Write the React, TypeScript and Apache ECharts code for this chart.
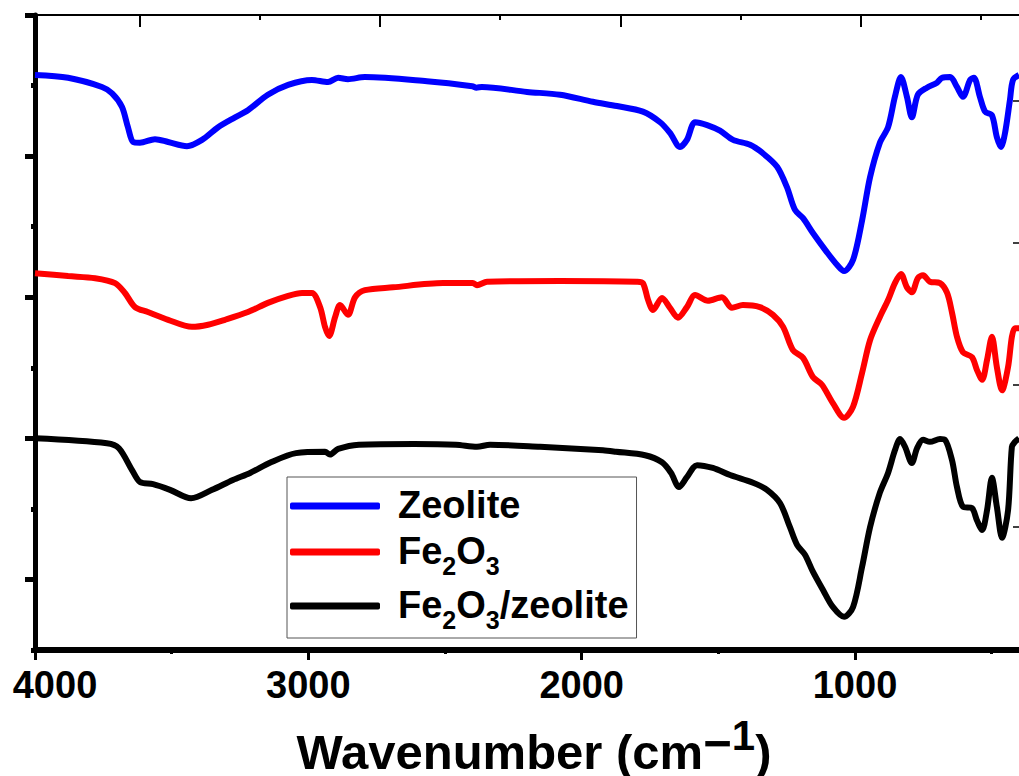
import { useEffect, useRef } from 'react';
import * as echarts from 'echarts';

const FONT = '"Liberation Sans", Arial, Helvetica, sans-serif';

// x-axis (wavenumber, cm-1)
const WN_MIN = 400;
const WN_MAX = 4000;
const WN_TICKS = [4000, 3000, 2000, 1000];
const WN_MINOR = [3500, 2500, 1500, 500];
const TOP_MAJOR = [3616, 2738, 1858, 978];
const TOP_MINOR = [3177, 2299, 1417, 539];

// y-axis (transmittance, a.u.)
const T_MIN = 10;
const T_MAX = 100;
const LEFT_MAJOR = [20, 40, 60, 80, 100];
const RIGHT_TICKS = [27.4, 47.6, 67.7, 87.9];

const NAMES = ['Zeolite', 'Fe₂O₃', 'Fe₂O₃/zeolite'];
const COLORS = ['#0000ff', '#ff0000', '#000000'];

const zeolite = [
  [4000, 91.5], [3879, 91.1], [3755, 89.8], [3718, 88.9], [3682, 87.0], [3660, 84.1],
  [3641, 82.0], [3616, 81.9], [3561, 82.4], [3513, 82.0], [3444, 81.4], [3389, 82.3],
  [3330, 84.1], [3268, 85.5], [3221, 86.5], [3148, 88.7], [3074, 90.1], [2987, 90.8],
  [2928, 90.5], [2891, 91.1], [2855, 90.9], [2793, 91.2], [2566, 90.6], [2400, 89.9],
  [2385, 89.7], [2365, 89.8], [2200, 89.1], [2079, 88.7], [1959, 87.7], [1871, 87.1],
  [1776, 86.3], [1713, 84.8], [1677, 83.3], [1640, 81.3], [1615, 82.3], [1585, 84.8],
  [1541, 84.4], [1494, 83.6], [1446, 82.3], [1384, 81.6], [1337, 80.4], [1285, 78.5],
  [1249, 75.6], [1220, 72.4], [1190, 71.2], [1154, 69.1], [1103, 66.4], [1066, 64.6],
  [1040, 63.7], [1007, 65.3], [974, 70.9], [945, 77.0], [909, 81.9], [879, 84.1],
  [854, 88.4], [832, 91.2], [810, 88.4], [792, 85.5], [770, 88.7], [737, 89.7],
  [700, 90.4], [682, 91.1], [652, 91.2], [627, 89.8], [605, 88.4], [579, 90.8],
  [565, 91.1], [543, 88.4], [524, 86.3], [499, 85.8], [481, 82.7], [466, 81.3],
  [451, 83.3], [433, 88.0], [422, 90.8], [400, 91.5],
];

const fe2o3 = [
  [4000, 63.4], [3879, 63.0], [3780, 62.7], [3707, 62.0], [3671, 60.6], [3634, 58.6],
  [3587, 57.9], [3513, 56.8], [3426, 55.8], [3367, 56.1], [3305, 56.8], [3221, 57.9],
  [3148, 59.2], [3074, 60.2], [3023, 60.6], [2987, 60.6], [2957, 58.6], [2939, 55.8],
  [2924, 54.5], [2902, 57.2], [2884, 58.9], [2855, 57.5], [2829, 60.0], [2793, 61.0],
  [2690, 61.4], [2507, 62.0], [2398, 62.0], [2383, 61.7], [2346, 62.2], [2079, 62.3],
  [1798, 62.2], [1776, 62.0], [1757, 59.6], [1739, 58.2], [1706, 59.9], [1677, 58.5],
  [1648, 57.1], [1615, 58.6], [1585, 60.3], [1538, 59.5], [1487, 60.0], [1450, 58.5],
  [1410, 58.9], [1348, 58.6], [1300, 57.5], [1263, 55.8], [1227, 52.5], [1190, 51.4],
  [1154, 48.7], [1121, 47.6], [1081, 45.0], [1040, 42.9], [1007, 44.5], [974, 49.3],
  [945, 53.9], [909, 57.2], [879, 59.6], [854, 62.0], [832, 63.3], [810, 61.4],
  [792, 60.7], [770, 62.7], [751, 63.1], [726, 62.2], [689, 62.0], [663, 60.6],
  [645, 57.8], [627, 54.4], [605, 52.2], [572, 51.5], [554, 49.7], [535, 48.3],
  [517, 51.1], [499, 54.4], [481, 50.1], [462, 46.8], [440, 50.1], [426, 54.4],
  [415, 55.6], [400, 55.6],
];

const fe2o3Zeolite = [
  [4000, 40.0], [3737, 39.3], [3693, 38.6], [3645, 35.5], [3616, 33.8], [3568, 33.5],
  [3506, 32.7], [3429, 31.5], [3352, 32.7], [3276, 34.1], [3213, 35.1], [3137, 36.6],
  [3045, 37.9], [2939, 38.1], [2921, 37.7], [2891, 38.5], [2815, 39.1], [2613, 39.2],
  [2460, 39.1], [2383, 38.8], [2335, 39.1], [2152, 38.8], [1922, 38.3], [1874, 38.1],
  [1768, 37.6], [1706, 36.6], [1673, 35.1], [1644, 33.1], [1615, 34.5], [1578, 36.2],
  [1520, 35.8], [1457, 34.8], [1373, 33.7], [1322, 32.7], [1274, 30.8], [1238, 27.4],
  [1212, 24.9], [1183, 23.5], [1154, 21.1], [1117, 18.5], [1081, 16.1], [1040, 14.7],
  [1007, 16.1], [974, 21.8], [945, 27.4], [909, 32.3], [879, 35.1], [854, 38.3],
  [835, 39.9], [817, 38.8], [792, 36.5], [773, 38.6], [751, 39.8], [726, 39.5],
  [689, 39.9], [671, 39.8], [645, 36.9], [627, 33.1], [605, 30.3], [572, 30.1],
  [554, 28.4], [535, 27.0], [517, 29.8], [499, 34.4], [481, 30.3], [462, 25.9],
  [440, 29.8], [426, 38.8], [415, 39.5], [400, 40.0],
];

const SERIES_DATA = [zeolite, fe2o3, fe2o3Zeolite];

export default function App() {
  const ref = useRef<HTMLDivElement>(null);

  useEffect(() => {
    if (!ref.current) return;
    const chart = echarts.init(ref.current, null, { renderer: 'svg' });

    const xBase = {
      type: 'value',
      min: WN_MIN,
      max: WN_MAX,
      inverse: true,
      splitLine: { show: false },
      gridIndex: 0,
    };
    const yBase = {
      type: 'value',
      min: T_MIN,
      max: T_MAX,
      splitLine: { show: false },
      axisLabel: { show: false },
      gridIndex: 0,
    };

    const legendMain = { fontSize: 38, fontWeight: 'bold', fontFamily: FONT, color: '#000', verticalAlign: 'bottom' };
    const titleMain = { fontSize: 49, fontWeight: 'bold', fontFamily: FONT, color: '#000', verticalAlign: 'bottom' };

    chart.setOption({
      animation: false,
      backgroundColor: '#ffffff',
      grid: { left: 35, right: 0, top: 15, bottom: 126, outerBoundsMode: 'none', containLabel: false },
      xAxis: [
        {
          ...xBase,
          position: 'bottom',
          axisLine: { show: true, onZero: false, lineStyle: { color: '#000', width: 6 } },
          axisTick: { show: true, customValues: WN_TICKS, length: 10, lineStyle: { color: '#000', width: 3 } },
          axisLabel: {
            show: true,
            customValues: WN_TICKS,
            margin: 16,
            color: '#000',
            fontSize: 38,
            fontWeight: 'bold',
            fontFamily: FONT,
            formatter: (v: number) => (v === 4000 ? '{f|' + v + '}' : String(v)),
            rich: { f: { fontSize: 38, fontWeight: 'bold', fontFamily: FONT, color: '#000', padding: [0, 0, 0, 40] } },
          },
          name: '{t0|Wavenumber (cm}{m|−}{s|1}{t|)}',
          nameLocation: 'middle',
          nameGap: 64,
          nameTextStyle: {
            color: '#000',
            fontFamily: FONT,
            fontWeight: 'bold',
            fontSize: 49,
            rich: {
              t0: { ...titleMain, padding: [0, 0, 0, 14] },
              t: { ...titleMain },
              m: { ...titleMain, padding: [0, 0, 9, 0] },
              s: { fontSize: 42, fontWeight: 'bold', fontFamily: FONT, color: '#000', verticalAlign: 'bottom', padding: [0, 0, 20, 0] },
            },
          },
        },
        {
          ...xBase,
          position: 'bottom',
          axisLine: { show: false, onZero: false },
          axisTick: { show: true, customValues: WN_MINOR, length: 4, lineStyle: { color: '#000', width: 3 } },
          axisLabel: { show: false },
        },
        {
          ...xBase,
          position: 'top',
          axisLine: { show: true, onZero: false, lineStyle: { color: '#000', width: 2 } },
          axisTick: { show: true, inside: true, customValues: TOP_MAJOR, length: 12, lineStyle: { color: '#000', width: 2 } },
          axisLabel: { show: false },
        },
        {
          ...xBase,
          position: 'top',
          axisLine: { show: false, onZero: false },
          axisTick: { show: true, inside: true, customValues: TOP_MINOR, length: 5, lineStyle: { color: '#000', width: 2 } },
          axisLabel: { show: false },
        },
      ],
      yAxis: [
        {
          ...yBase,
          position: 'left',
          interval: 10,
          axisLine: { show: true, onZero: false, lineStyle: { color: '#000', width: 5 } },
          axisTick: { show: true, length: 4, lineStyle: { color: '#000', width: 5 } },
        },
        {
          ...yBase,
          position: 'left',
          axisLine: { show: false, onZero: false },
          axisTick: { show: true, customValues: LEFT_MAJOR, length: 10, lineStyle: { color: '#000', width: 5 } },
        },
        {
          ...yBase,
          position: 'right',
          axisLine: { show: false, onZero: false },
          axisTick: { show: true, inside: true, customValues: RIGHT_TICKS, length: 6, lineStyle: { color: '#000', width: 1.5 } },
        },
      ],
      legend: {
        orient: 'vertical',
        left: 287,
        top: 477,
        padding: [9, 8, 6, 3],
        itemGap: 8,
        itemWidth: 90,
        itemHeight: 7,
        icon: 'roundRect',
        selectedMode: false,
        borderColor: '#555',
        borderWidth: 1,
        backgroundColor: '#ffffff',
        data: NAMES,
        formatter: (n: string) => {
          if (n === NAMES[0]) return '{first|Zeolite}';
          if (n === NAMES[1]) return '{first|Fe}{sub|2}{b|O}{sub|3}';
          return '{first|Fe}{sub|2}{b|O}{sub|3}{b|/zeolite}';
        },
        textStyle: {
          fontFamily: FONT,
          fontSize: 38,
          fontWeight: 'bold',
          color: '#000',
          rich: {
            first: { ...legendMain, padding: [6, 0, 8, 13] },
            b: { ...legendMain, padding: [6, 0, 8, 0] },
            sub: { fontSize: 25, fontWeight: 'bold', fontFamily: FONT, color: '#000', verticalAlign: 'bottom' },
          },
        },
      },
      series: SERIES_DATA.map((d, i) => ({
        name: NAMES[i],
        type: 'line',
        xAxisIndex: 0,
        yAxisIndex: 0,
        data: d,
        symbol: 'none',
        showSymbol: false,
        smooth: 0.3,
        lineStyle: { color: COLORS[i], width: 6 },
        itemStyle: { color: COLORS[i] },
        z: 3,
      })),
    });

    return () => chart.dispose();
  }, []);

  return (
    <div
      ref={ref}
      style={{ position: 'absolute', left: 0, top: 0, width: 1019, height: 776, background: '#fff' }}
    />
  );
}
